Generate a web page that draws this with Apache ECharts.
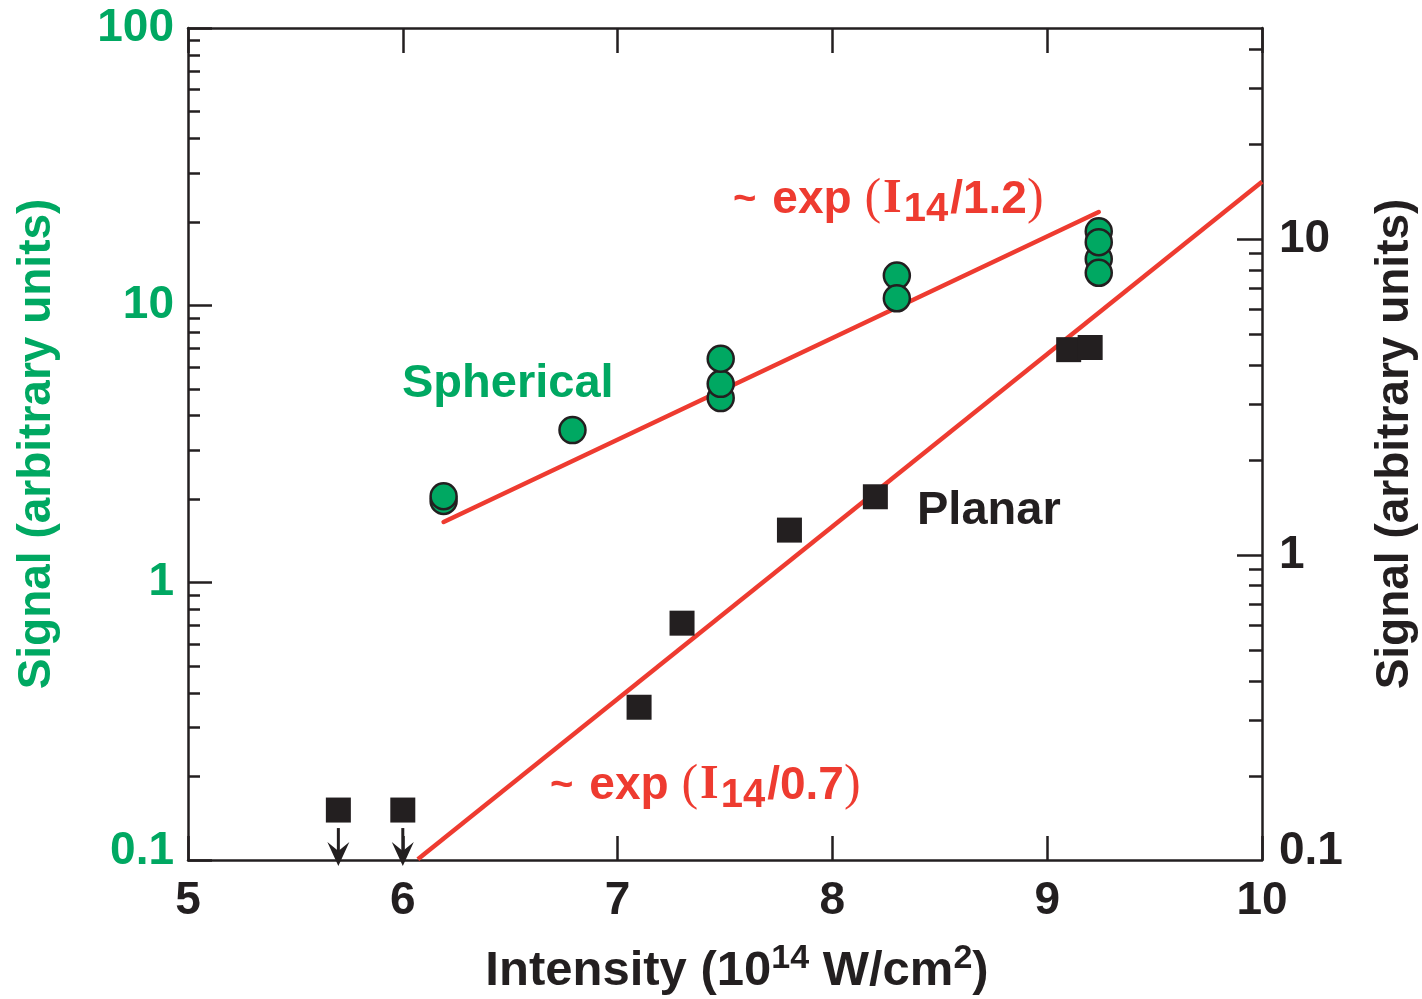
<!DOCTYPE html>
<html>
<head>
<meta charset="utf-8">
<script src="https://cdn.jsdelivr.net/npm/echarts@6/dist/echarts.min.js"></script>
<style>html,body{margin:0;padding:0;background:#fff;}#chart{width:1422px;height:999px;}</style>
</head>
<body>
<div id="chart"></div>
<script>
// ---------- data ----------
const xTickValues = [5, 6, 7, 8, 9, 10];
const leftMajorTicks = [0.1, 1, 10, 100];
const leftMinorTicks = [0.2,0.3,0.4,0.5,0.6,0.7,0.8,0.9,2,3,4,5,6,7,8,9,20,30,40,50,60,70,80,90];
const rightRange = [0.1084, 46.6];
const rightMajorTicks = [1, 10];
const rightLabelValues = [0.1084, 1, 10];
const rightMinorTicks = [0.2,0.3,0.4,0.5,0.6,0.7,0.8,0.9,2,3,4,5,6,7,8,9,20,30,40];

// Spherical targets (left axis)
const sphericalX = [6.19, 6.19, 6.79, 7.48, 7.48, 7.48, 8.30, 8.30, 9.24, 9.24, 9.24, 9.24];
const sphericalY = [1.97, 2.05, 3.55, 4.63, 5.21, 6.42, 12.8, 10.6, 18.5, 14.7, 16.9, 13.1];

// Planar targets (right axis); upper limits flagged
const planarX = [5.70, 6.00, 7.10, 7.30, 7.80, 8.20, 9.10, 9.20];
const planarY = [0.156, 0.156, 0.330, 0.609, 1.20, 1.53, 4.47, 4.54];
const planarUpperLimit = [true, true, false, false, false, false, false, false];

// Exponential fits
const sphericalFitX = [6.19, 9.24];
const sphericalFitY = [1.655, 21.7];
const planarFitX = [6.07, 10.0];
const planarFitY = [0.109, 15.2];

// ---------- styles ----------
const GREEN = '#00A862', RED = '#EE3B30', BLACK = '#231F20';
const SANS = '"Liberation Sans", Arial, Helvetica, sans-serif';
const SERIF = '"Liberation Serif", "Times New Roman", serif';

const zip = (xs, ys) => xs.map((x, i) => [x, ys[i]]);

function fmtLog(v) {
  if (v < 0.5) return '{low|0.1}';
  return String(Math.round(v));
}

const baseY = {
  type: 'log', logBase: 10, gridIndex: 0,
  splitLine: { show: false }, minorTick: { show: false }
};

const chart = echarts.init(document.getElementById('chart'), null, { renderer: 'canvas' });

const richAnno = {
  t: { fontSize: 40, fontWeight: 'bold', fontFamily: SANS, fill: RED, lineHeight: 60, padding: [0, 16, 0, 0] },
  e: { fontSize: 46, fontWeight: 'bold', fontFamily: SANS, fill: RED, lineHeight: 60 },
  p: { fontSize: 50, fontWeight: 'normal', fontFamily: SERIF, fill: RED, lineHeight: 60 },
  i: { fontSize: 48, fontWeight: 'bold', fontFamily: SERIF, fill: RED, lineHeight: 60, padding: [0, 2, 0, 2] },
  s: { fontSize: 40, fontWeight: 'bold', fontFamily: SANS, fill: RED, lineHeight: 34, verticalAlign: 'bottom', padding: [0, 2, 0, 0] }
};

const option = {
  animation: false,
  backgroundColor: '#ffffff',
  grid: { left: 188, right: 160, top: 28, bottom: 139, containLabel: false, outerBoundsMode: 'none' },
  xAxis: [
    {
      type: 'value', position: 'bottom', min: 5, max: 10, interval: 1,
      axisLine: { show: true, lineStyle: { color: BLACK, width: 2.5 } },
      axisTick: { show: true, inside: true, length: 24, lineStyle: { color: BLACK, width: 2.5 } },
      axisLabel: { show: true, margin: 18, fontSize: 46, fontWeight: 'bold', fontFamily: SANS, color: BLACK,
        customValues: xTickValues },
      splitLine: { show: false },
      name: 'Intensity (10{sup|14} W/cm{sup|2})',
      nameLocation: 'middle', nameGap: 82,
      nameTextStyle: {
        fontSize: 49, fontWeight: 'bold', fontFamily: SANS, color: BLACK, lineHeight: 58,
        padding: [0, 0, 0, 24],
        rich: { sup: { fontSize: 34, fontWeight: 'bold', fontFamily: SANS, color: BLACK, lineHeight: 34, verticalAlign: 'top' } }
      }
    },
    {
      type: 'value', position: 'top', min: 5, max: 10, interval: 1,
      axisLine: { show: true, lineStyle: { color: BLACK, width: 2.5 } },
      axisTick: { show: true, inside: true, length: 25, lineStyle: { color: BLACK, width: 2.5 } },
      axisLabel: { show: false },
      splitLine: { show: false }
    }
  ],
  yAxis: [
    Object.assign({}, baseY, {
      position: 'left', min: 0.1, max: 100,
      axisLine: { show: true, lineStyle: { color: BLACK, width: 2.5 } },
      axisTick: { show: true, inside: true, length: 24, customValues: leftMajorTicks, lineStyle: { color: BLACK, width: 2.5 } },
      axisLabel: { show: true, margin: 14, fontSize: 46, fontWeight: 'bold', fontFamily: SANS, color: GREEN,
        customValues: leftMajorTicks, formatter: fmtLog,
        rich: { low: { fontSize: 46, fontWeight: 'bold', fontFamily: SANS, color: GREEN, padding: [0, 0, 18, 0] } } },
      name: 'Signal (arbitrary units)', nameLocation: 'middle', nameGap: 128, nameRotate: 90,
      nameTextStyle: { fontSize: 46, fontWeight: 'bold', fontFamily: SANS, color: GREEN }
    }),
    Object.assign({}, baseY, {
      position: 'left', min: 0.1, max: 100,
      axisLine: { show: false },
      axisTick: { show: true, inside: true, length: 12, customValues: leftMinorTicks, lineStyle: { color: BLACK, width: 2.5 } },
      axisLabel: { show: false }
    }),
    Object.assign({}, baseY, {
      position: 'right', min: rightRange[0], max: rightRange[1],
      axisLine: { show: true, lineStyle: { color: BLACK, width: 2.5 } },
      axisTick: { show: true, inside: true, length: 25, customValues: rightMajorTicks, lineStyle: { color: BLACK, width: 2.5 } },
      axisLabel: { show: true, margin: 17, fontSize: 46, fontWeight: 'bold', fontFamily: SANS, color: BLACK,
        customValues: rightLabelValues, formatter: fmtLog,
        rich: { low: { fontSize: 46, fontWeight: 'bold', fontFamily: SANS, color: BLACK, padding: [0, 0, 18, 0] } } },
      name: 'Signal (arbitrary units)', nameLocation: 'middle', nameGap: 110, nameRotate: 90,
      nameTextStyle: { fontSize: 46, fontWeight: 'bold', fontFamily: SANS, color: BLACK }
    }),
    Object.assign({}, baseY, {
      position: 'right', min: rightRange[0], max: rightRange[1],
      axisLine: { show: false },
      axisTick: { show: true, inside: true, length: 13, customValues: rightMinorTicks, lineStyle: { color: BLACK, width: 2.5 } },
      axisLabel: { show: false }
    })
  ],
  series: [
    {
      name: 'fit spherical', type: 'line', xAxisIndex: 0, yAxisIndex: 0,
      data: zip(sphericalFitX, sphericalFitY), symbol: 'none', z: 2,
      lineStyle: { color: RED, width: 4.5, cap: 'round' }
    },
    {
      name: 'fit planar', type: 'line', xAxisIndex: 0, yAxisIndex: 2,
      data: zip(planarFitX, planarFitY), symbol: 'none', z: 2, clip: true,
      lineStyle: { color: RED, width: 4.5 }
    },
    {
      name: 'Spherical', type: 'scatter', xAxisIndex: 0, yAxisIndex: 0,
      data: zip(sphericalX, sphericalY), symbol: 'circle', symbolSize: 26, z: 4,
      itemStyle: { color: GREEN, borderColor: BLACK, borderWidth: 2.5, opacity: 1 }
    },
    {
      name: 'Planar', type: 'scatter', xAxisIndex: 0, yAxisIndex: 2,
      data: zip(planarX, planarY), symbol: 'rect', symbolSize: 25, z: 4,
      itemStyle: { color: BLACK, opacity: 1 }
    },
    {
      name: 'upper limits', type: 'custom', xAxisIndex: 0, yAxisIndex: 2, z: 5,
      data: zip(planarX, planarY).filter((d, i) => planarUpperLimit[i]),
      renderItem: function (params, api) {
        const p = api.coord([api.value(0), api.value(1)]);
        return {
          type: 'group',
          children: [
            { type: 'line', shape: { x1: p[0], y1: p[1] + 18, x2: p[0], y2: p[1] + 44 },
              style: { stroke: BLACK, lineWidth: 3 } },
            { type: 'polygon', shape: { points: [[p[0], p[1] + 56], [p[0] - 11, p[1] + 32], [p[0], p[1] + 41], [p[0] + 11, p[1] + 32]] },
              style: { fill: BLACK } }
          ]
        };
      }
    }
  ],
  graphic: [
    {
      type: 'text', left: 402, top: 361, z: 10,
      style: { text: 'Spherical', fill: GREEN, font: 'bold 47px ' + SANS }
    },
    {
      type: 'text', left: 917, top: 488, z: 10,
      style: { text: 'Planar', fill: BLACK, font: 'bold 47px ' + SANS }
    },
    {
      type: 'text', x: 733, y: 200, z: 10,
      style: {
        text: '{t|~}{e|exp }{p|(}{i|I}{s|14}{e|/1.2}{p|)}',
        verticalAlign: 'middle', align: 'left', rich: richAnno
      }
    },
    {
      type: 'text', x: 550, y: 786, z: 10,
      style: {
        text: '{t|~}{e|exp }{p|(}{i|I}{s|14}{e|/0.7}{p|)}',
        verticalAlign: 'middle', align: 'left', rich: richAnno
      }
    }
  ]
};

chart.setOption(option);
</script>
</body>
</html>
